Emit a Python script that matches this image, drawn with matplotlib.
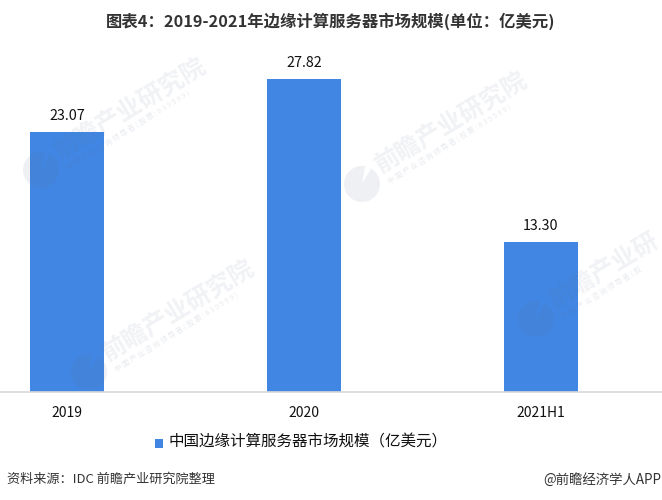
import matplotlib
matplotlib.use('Agg')
import matplotlib.pyplot as plt
from matplotlib.patches import Rectangle, Wedge

plt.rcParams['font.family'] = ['Noto Sans CJK SC', 'DejaVu Sans']

categories = ['2019', '2020', '2021H1']
values = [23.07, 27.82, 13.30]
value_labels = ['23.07', '27.82', '13.30']
series_name = '中国边缘计算服务器市场规模（亿美元）'
title = '图表4：2019-2021年边缘计算服务器市场规模(单位：亿美元)'
source = '资料来源：IDC 前瞻产业研究院整理'
credit = '@前瞻经济学人APP'
watermark = '前瞻产业研究院'
watermark_sub = '中 国 产 业 咨 询 领 导 者 ( 股 票 : 8 3 9 5 9 9 )'
# the last watermark runs into the right edge in the original, so it stops early
watermark_short = '前瞻产业研'
watermark_sub_short = '中 国 产 业 咨 询 领 导 者 ( 股'

W, H = 662, 500
BLUE = '#4186E3'
WM = '#5F6F8F'

fig = plt.figure(figsize=(W / 100, H / 100), dpi=100)
ax = fig.add_axes([0, (H - 392) / H, 1, 332 / H])

x = list(range(len(categories)))
ax.bar(x, values, width=74 / 237, color=BLUE, zorder=2)
ax.set_xlim(-67 / 237, (W - 67) / 237)
ax.set_ylim(0, 332 / 11.25)

for xi, v, lab in zip(x, values, value_labels):
    ax.annotate(lab, (xi, v), xytext=(0, 9), textcoords='offset pixels',
                ha='center', va='bottom', fontsize=10.3, color='#111111')

ax.set_xticks(x)
ax.set_xticklabels(categories, fontsize=10, color='#111111')
ax.tick_params(axis='x', length=0, pad=10)
ax.set_yticks([])
for s in ['top', 'left', 'right']:
    ax.spines[s].set_visible(False)
ax.spines['bottom'].set_color('#D9D9D9')
ax.spines['bottom'].set_linewidth(1.2)
ax.patch.set_alpha(0)

# watermarks, in pixels from the top left
overlay = fig.add_axes([0, 0, 1, 1], zorder=5)
overlay.set_xlim(0, W)
overlay.set_ylim(H, 0)
overlay.axis('off')
marks = [(41, 170, watermark, watermark_sub), (362, 184, watermark, watermark_sub),
         (89, 372, watermark, watermark_sub), (536, 319, watermark_short, watermark_sub_short)]
for wx, wy, wm, wm_sub in marks:
    overlay.add_patch(Wedge((wx, wy), 18, 300, 640, color=WM, alpha=0.1, lw=0))
    overlay.text(wx + 15, wy - 17, wm, rotation=31, rotation_mode='anchor',
                 fontsize=17.8, fontweight='bold', color=WM, alpha=0.09, ha='left', va='center')
    overlay.text(wx + 27, wy - 1, wm_sub, rotation=32, rotation_mode='anchor',
                 fontsize=5.3, color=WM, alpha=0.14, ha='left', va='center')

overlay.text(331, 21, title, fontsize=11.75, fontweight='bold', color='#333333',
             ha='center', va='center')
overlay.add_patch(Rectangle((155, 439), 8, 9, color=BLUE, lw=0))
overlay.text(169, 442, series_name, fontsize=11.2, color='#111111', ha='left', va='center')
overlay.text(7, 479, source, fontsize=9.45, color='#333333', ha='left', va='center')
overlay.text(661, 480, credit, fontsize=9.66, color='#333333', ha='right', va='center')

fig.savefig('out.png', dpi=100)
